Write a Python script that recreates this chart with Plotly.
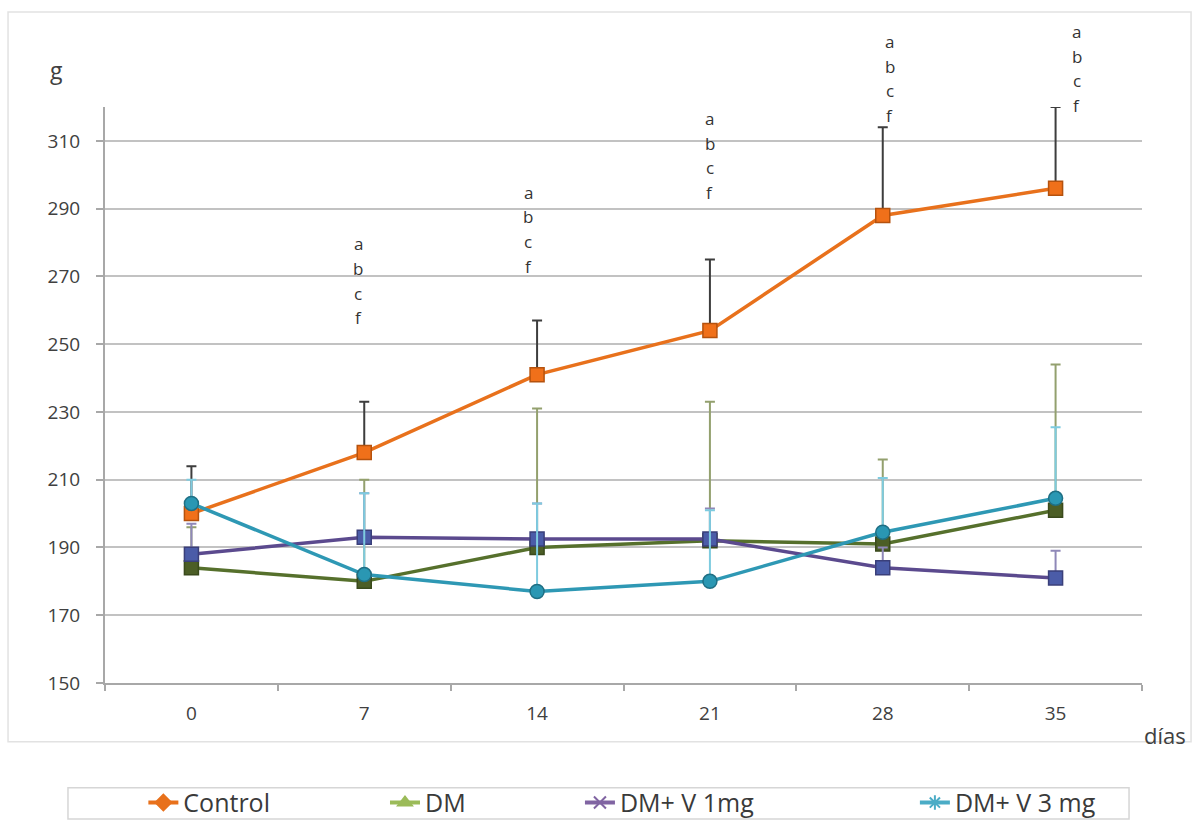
import plotly.graph_objects as go

# Body weight (g) over time (days) per group, with upper SD bars
days = ["0", "7", "14", "21", "28", "35"]

control = [200, 218, 241, 254, 288, 296]
control_sd = [14, 15, 16, 21, 26, 24]

dm = [184, 180, 190, 192, 191, 201]
dm_sd = [12, 30, 41, 41, 25, 43]

dm_v1 = [188, 193, 192.5, 192.5, 184, 181]
dm_v1_sd = [9, 13, 10.5, 9, 6, 8]

dm_v3 = [203, 182, 177, 180, 194.5, 204.5]
dm_v3_sd = [7, 24, 26, 21, 16, 21]

sig_days = ["7", "14", "21", "28", "35"]
sig_letters = ["a", "b", "c", "f"]

FONT = "Open Sans"
Y_MIN, Y_MAX = 150, 320

series = [
    # name, values, sd, line colour, marker symbol, marker fill, marker border, error colour,
    # legend colour, legend symbol
    ("Control", control, control_sd, "#E8711C", "square", "#F0701A", "#B5520E", "#3d3d3d",
     "#E8711C", "diamond"),
    ("DM", dm, dm_sd, "#56702C", "square", "#4C5E26", "#3A4A1C", "#93A06E",
     "#9BBB59", "triangle-up"),
    ("DM+ V 1mg", dm_v1, dm_v1_sd, "#5B4A8E", "square", "#4B5CA8", "#3A3F7A", "#8F88B8",
     "#8064A2", "x-thin-open"),
    ("DM+ V 3 mg", dm_v3, dm_v3_sd, "#2E98B4", "circle", "#2A97B3", "#1F6F84", "#7ECBDF",
     "#4BACC6", "asterisk-open"),
]

fig = go.Figure()

for name, vals, sd, lc, sym, mfill, mline, ecol, _, _ in series:
    fig.add_trace(go.Scatter(
        x=days, y=vals, name=name, mode="lines+markers", showlegend=False,
        line=dict(color=lc, width=3.5),
        marker=dict(symbol=sym, size=14, color=mfill, line=dict(color=mline, width=1.5)),
        error_y=dict(type="data", symmetric=False, array=sd, arrayminus=[0] * len(sd),
                     color=ecol, thickness=2, width=5),
        cliponaxis=False,
    ))

# Legend entries, one legend per item so each can be placed on its own
legend_x = [0.037, 0.270, 0.458, 0.781]
for i, (name, _, _, _, _, _, _, _, lgc, lsym) in enumerate(series):
    key = "legend" if i == 0 else f"legend{i + 1}"
    fig.add_trace(go.Scatter(
        x=[None], y=[None], name=name, mode="lines+markers", legend=key,
        line=dict(color=lgc, width=4),
        marker=dict(symbol=lsym, size=12, color=lgc, line=dict(color=lgc, width=2)),
    ))

legend_common = dict(
    orientation="h", xanchor="left", yanchor="middle", y=-0.208,
    bgcolor="rgba(0,0,0,0)", borderwidth=0,
    font=dict(family=FONT, size=25, color="#3a3a3a"),
)
fig.update_layout(
    legend=dict(x=legend_x[0], **legend_common),
    legend2=dict(x=legend_x[1], **legend_common),
    legend3=dict(x=legend_x[2], **legend_common),
    legend4=dict(x=legend_x[3], **legend_common),
)

# Significance letters stacked above each time point (some sit above the plot top,
# so they are placed on the paper scale)
sig_top = [279.7, 294.9, 316.6, 339.4, 342.3]
sig_xshift = [-6, -9, 0, 7, 21]
sig_step = 7.3
annotations = []
for d, top, xs in zip(sig_days, sig_top, sig_xshift):
    for k, letter in enumerate(sig_letters):
        yv = top - k * sig_step
        annotations.append(dict(
            x=days.index(d), y=(yv - Y_MIN) / (Y_MAX - Y_MIN), xref="x", yref="paper",
            xanchor="center", yanchor="middle",
            text=letter, showarrow=False, xshift=xs,
            font=dict(family=FONT, size=17, color="#333333"),
        ))

# Axis unit labels
annotations.append(dict(x=-0.047, y=1.065, xref="paper", yref="paper", text="g",
                        xanchor="center", yanchor="middle", showarrow=False,
                        font=dict(family=FONT, size=23, color="#404040")))
annotations.append(dict(x=1.0225, y=-0.09, xref="paper", yref="paper", text="días",
                        xanchor="center", yanchor="middle", showarrow=False,
                        font=dict(family=FONT, size=22, color="#404040")))

shapes = [
    # outer chart frame
    dict(type="rect", xref="paper", yref="paper", x0=-0.0935, x1=1.0473, y0=-0.102, y1=1.165,
         line=dict(color="#e2e2e2", width=1.5), layer="below"),
    # legend frame
    dict(type="rect", xref="paper", yref="paper", x0=-0.0357, x1=0.9875, y0=-0.236, y1=-0.182,
         line=dict(color="#d6d6d6", width=1.5), layer="below"),
]

fig.update_layout(
    width=1193, height=821,
    margin=dict(l=105, r=51, t=107, b=138, autoexpand=False),
    paper_bgcolor="white", plot_bgcolor="white",
    annotations=annotations, shapes=shapes,
    xaxis=dict(
        type="category", categoryorder="array", categoryarray=days,
        range=[-0.5, 5.5], showgrid=False, zeroline=False,
        showline=True, linecolor="#a8a8a8", linewidth=2,
        ticks="outside", tickson="boundaries", ticklen=6, tickcolor="#a8a8a8", tickwidth=2,
        ticklabelstandoff=12,
        tickfont=dict(family=FONT, size=19, color="#404040"),
    ),
    yaxis=dict(
        range=[Y_MIN, Y_MAX], tick0=150, dtick=20, showgrid=True,
        gridcolor="#c2c2c2", gridwidth=2, zeroline=False,
        showline=True, linecolor="#a8a8a8", linewidth=2,
        ticks="outside", ticklen=7, tickcolor="#a8a8a8", tickwidth=2,
        ticklabelstandoff=12,
        tickfont=dict(family=FONT, size=19, color="#404040"),
    ),
)

fig.write_html("out.html")
